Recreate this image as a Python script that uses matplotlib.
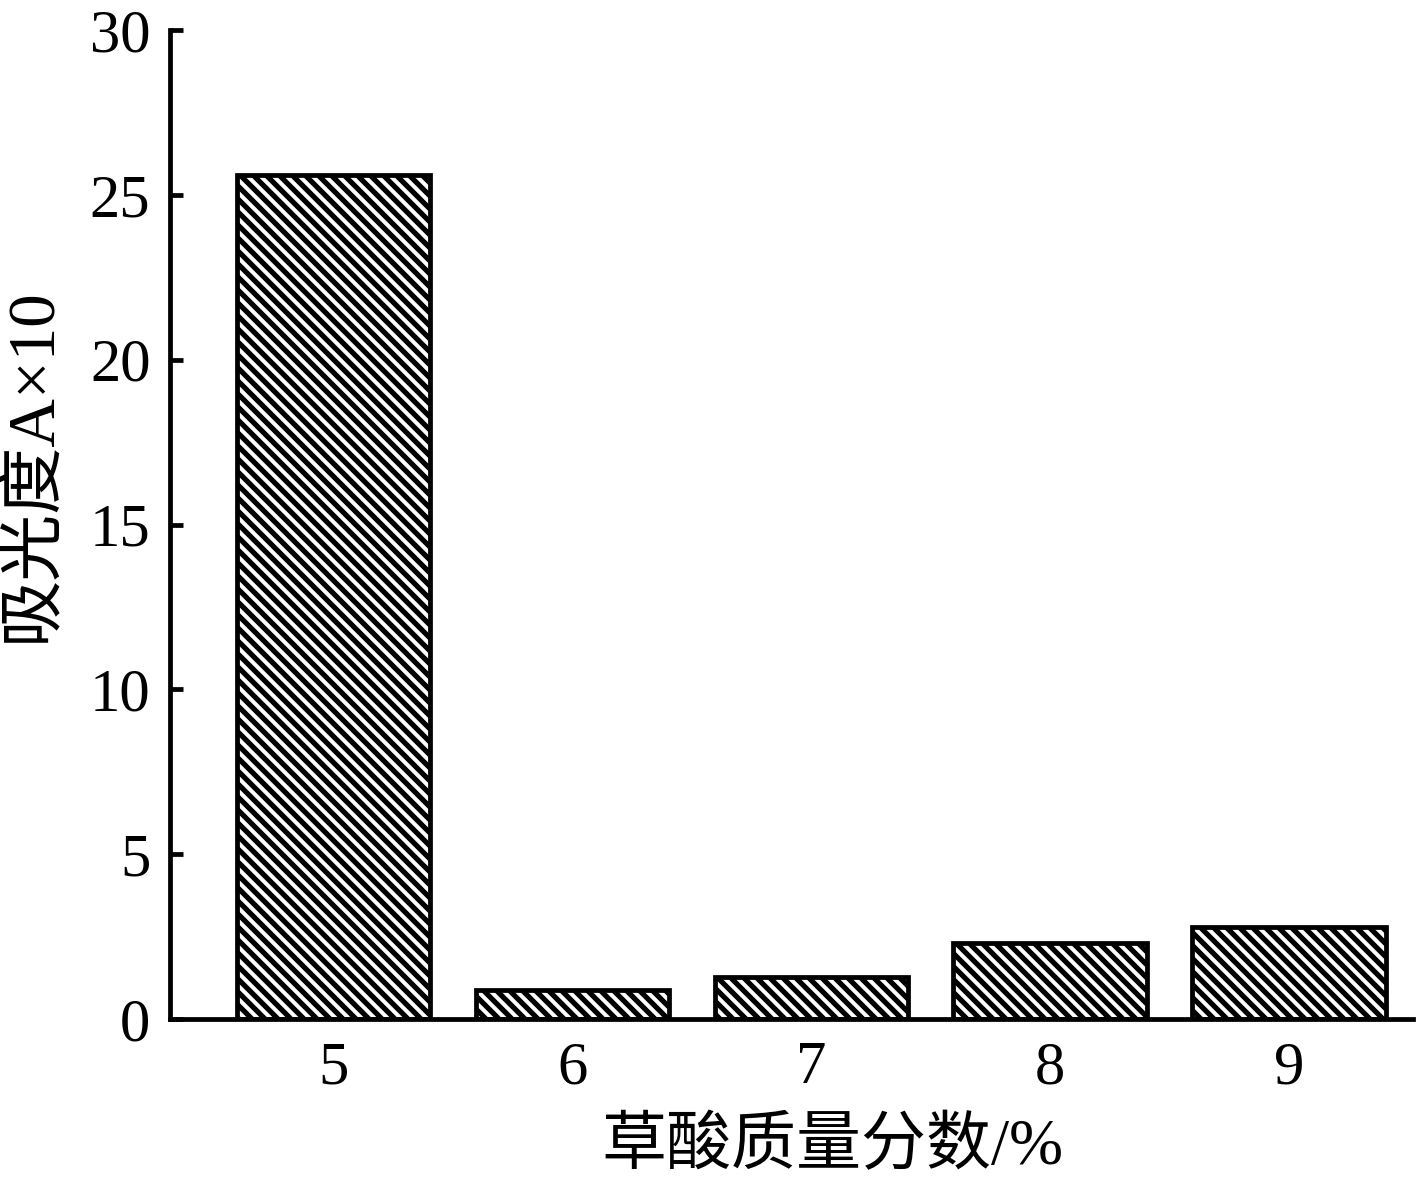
import matplotlib
matplotlib.use("Agg")
import matplotlib.pyplot as plt

categories = ["5", "6", "7", "8", "9"]
values = [25.6, 0.88, 1.27, 2.3, 2.78]
yticks = [0, 5, 10, 15, 20, 25, 30]
xlabel = "草酸质量分数/%"
ylabel = "吸光度A×10"

DPI = 156
plt.rcParams['font.family'] = ['Liberation Serif', 'Noto Sans CJK SC']
plt.rcParams['hatch.linewidth'] = 2.4
plt.rcParams['hatch.color'] = 'black'

fig = plt.figure(figsize=(1417 / DPI, 1181 / DPI), dpi=DPI)
ax = fig.add_axes([170 / 1417, 1 - 1019 / 1181, 1243 / 1417, 989 / 1181])

x = list(range(len(categories)))
ax.bar(x, values, width=0.81, color='white', edgecolor='black',
       linewidth=2.2, hatch=chr(92) * 4, zorder=2)

ax.set_xlim(-0.686, 4.52)
ax.set_ylim(0, 30)
ax.set_xticks(x)
ax.set_xticklabels(categories)
ax.set_yticks(yticks)

for s in ['top', 'right']:
    ax.spines[s].set_visible(False)
for s in ['left', 'bottom']:
    ax.spines[s].set_linewidth(2.2)
    ax.spines[s].set_zorder(3)

ax.tick_params(axis='y', direction='in', length=6, width=2.2, labelsize=28, pad=9)
ax.tick_params(axis='x', length=0, labelsize=28, pad=10)

ax.set_xlabel(xlabel, fontsize=30)
ax.set_ylabel(ylabel, fontsize=31)
ax.xaxis.set_label_coords(0.533, -0.1)
ax.yaxis.set_label_coords(-0.085, 0.56)

fig.savefig("out.png", dpi=DPI)
